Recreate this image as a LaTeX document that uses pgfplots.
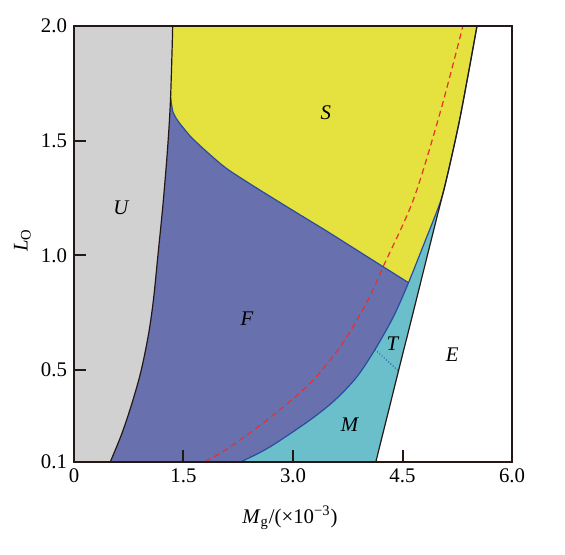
\documentclass[border=0pt]{standalone}
\usepackage{fontspec}
\setmainfont{Liberation Serif}
\usepackage{pgfplots}
\pgfplotsset{compat=1.18}
\definecolor{cgray}{HTML}{D1D1D1}
\definecolor{cyel}{HTML}{E5E13F}
\definecolor{cblue}{HTML}{6870AD}
\definecolor{ccyan}{HTML}{6ABFCA}
\definecolor{lblue}{HTML}{2A4BA0}
\definecolor{lred}{HTML}{E8302C}
\definecolor{axc}{HTML}{231815}
\begin{document}
\begin{tikzpicture}
\path[use as bounding box] (-37pt,-46pt) rectangle (245.5pt,231pt);
\begin{axis}[
  at={(0,0)}, anchor=south west,
  scale only axis, width=219pt, height=218pt,
  xmin=0, xmax=6, ymin=0.1, ymax=2.0,
  axis line style={axc, line width=1pt},
  tick style={axc, line width=1pt},
  major tick length=6pt,
  tick pos=left, tick align=inside,
  xtick={0,1.5,3,4.5,6}, xticklabels={0,1.5,3.0,4.5,6.0},
  ytick={0.1,0.5,1,1.5,2}, yticklabels={0.1,0.5,1.0,1.5,2.0},
  /pgf/number format/assume math mode=true,
  font=\fontsize{10.4}{12}\selectfont,
  tick label style={font=\fontsize{10.4}{12}\selectfont},
  xlabel={\textit{M}\textsubscript{g}/(×10\textsuperscript{−3})},
  ylabel={\textit{L}\textsubscript{O}},
  xlabel style={at={(axis description cs:0.493,-0.128)}, anchor=center},
  ylabel style={at={(axis description cs:-0.118,0.509)}, anchor=center},
  axis on top,
]
% (a) blue: everything left of the F/M curve and its continuation
\addplot[fill=cblue, draw=none, smooth] coordinates {
 (2.00,0.055) (2.297,0.102) (2.685,0.166) (3.233,0.283) (3.575,0.370) (3.872,0.470) (4.123,0.590) (4.374,0.732) (4.575,0.876)
 (4.80,1.055) (5.02,1.235) (5.116,1.351) (5.274,1.578) (5.404,1.796) (5.516,1.992) (5.605,2.15)
} -- (axis cs:-1,2.15) -- (axis cs:-1,0) -- cycle;
% (b) yellow: everything above the S/F curve (extended)
\addplot[fill=cyel, draw=none, smooth] coordinates {
 (1.28,2.15) (1.315,1.80) (1.323,1.690) (1.356,1.625) (1.425,1.586) (1.521,1.547) (1.616,1.512) (1.822,1.451) (2.082,1.381) (2.397,1.315) (2.699,1.255) (3.082,1.180) (3.438,1.111) (3.822,1.034) (4.205,0.957) (4.580,0.882) (5.00,0.80) (6.50,0.50)
} -- (axis cs:7,0.5) -- (axis cs:7,2.15) -- cycle;
% (c) cyan: everything right of the F/M curve
\addplot[fill=ccyan, draw=none, smooth] coordinates {
 (2.00,0.055) (2.297,0.102) (2.685,0.166) (3.233,0.283) (3.575,0.370) (3.872,0.470) (4.123,0.590) (4.374,0.732) (4.575,0.876)
 (4.80,1.055) (5.02,1.235) (5.116,1.351) (5.274,1.578) (5.404,1.796) (5.516,1.992) (5.605,2.15)
} -- (axis cs:7,2.15) -- (axis cs:7,0) -- cycle;
% (d) white: right of the E boundary
\addplot[fill=white, draw=none, smooth] coordinates {
 (4.09,0.04) (4.133,0.098) (4.288,0.296) (4.445,0.497) (4.603,0.697) (4.774,0.915) (4.945,1.133) (5.116,1.351) (5.274,1.578) (5.404,1.796) (5.516,1.992) (5.605,2.15)
} -- (axis cs:7,2.15) -- (axis cs:7,0) -- cycle;
% (e) gray: left of the U boundary
\addplot[fill=cgray, draw=none, smooth] coordinates {
 (0.434,0.05) (0.497,0.10) (0.658,0.226) (0.795,0.357) (0.918,0.496) (1.021,0.657) (1.089,0.809) (1.151,1.005) (1.219,1.223) (1.281,1.462) (1.322,1.680) (1.352,1.999) (1.356,2.15)
} -- (axis cs:-1,2.15) -- (axis cs:-1,0) -- cycle;
% boundaries
\addplot[lblue, line width=0.6pt, smooth] coordinates {
 (1.323,1.690) (1.356,1.625) (1.425,1.586) (1.521,1.547) (1.616,1.512) (1.822,1.451) (2.082,1.381) (2.397,1.315) (2.699,1.255) (3.082,1.180) (3.438,1.111) (3.822,1.034) (4.205,0.957) (4.580,0.882)
};
\addplot[lblue, line width=0.6pt, smooth] coordinates {
 (2.00,0.055) (2.297,0.102) (2.685,0.166) (3.233,0.283) (3.575,0.370) (3.872,0.470) (4.123,0.590) (4.374,0.732) (4.575,0.876)
 (4.80,1.055) (5.02,1.235) (5.116,1.351) (5.274,1.578) (5.404,1.796) (5.516,1.992) (5.605,2.15)
};
\addplot[lblue, line width=0.5pt, densely dotted] coordinates {(4.123,0.590) (4.445,0.497)};
\addplot[axc, line width=0.6pt, smooth] coordinates {
 (0.434,0.05) (0.497,0.10) (0.658,0.226) (0.795,0.357) (0.918,0.496) (1.021,0.657) (1.089,0.809) (1.151,1.005) (1.219,1.223) (1.281,1.462) (1.322,1.680) (1.352,1.999) (1.356,2.15)
};
\addplot[axc, line width=0.6pt, smooth] coordinates {
 (4.09,0.04) (4.133,0.098) (4.288,0.296) (4.445,0.497) (4.603,0.697) (4.774,0.915) (4.945,1.133) (5.116,1.351) (5.274,1.578) (5.404,1.796) (5.516,1.992) (5.605,2.15)
};
\addplot[lred, line width=0.6pt, dash pattern=on 3pt off 2pt, smooth] coordinates {
 (1.799,0.102) (2.096,0.157) (2.640,0.282) (3.233,0.443) (3.679,0.617) (4.027,0.806) (4.233,0.950) (4.648,1.242) (5.014,1.621) (5.325,1.997)
};
% region labels
\node at (axis cs:3.45,1.62) {\textit{S}};
\node at (axis cs:0.65,1.207) {\textit{U}};
\node at (axis cs:2.37,0.726) {\textit{F}};
\node at (axis cs:4.37,0.617) {\textit{T}};
\node at (axis cs:5.18,0.566) {\textit{E}};
\node at (axis cs:3.78,0.261) {\textit{M}};
\end{axis}
\end{tikzpicture}
\end{document}
